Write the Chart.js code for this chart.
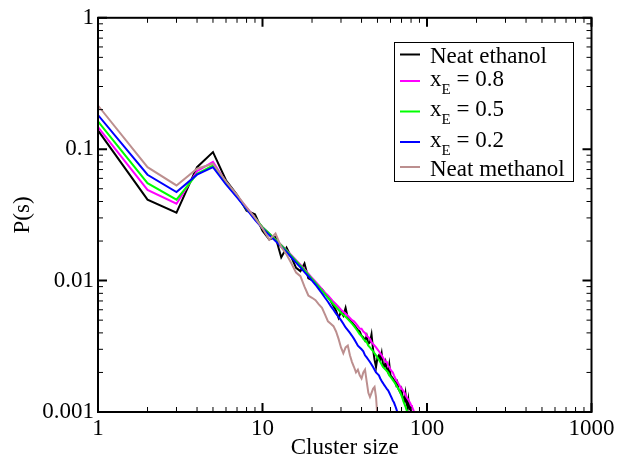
<!DOCTYPE html>
<html lang="en">
<head>
  <meta charset="UTF-8" />
  <title>Cluster size distribution</title>
  <script src="https://cdn.jsdelivr.net/npm/chart.js"></script>
  <style>
    html, body { margin: 0; padding: 0; background: #ffffff; }
    #wrap { width: 618px; height: 456px; }
  </style>
</head>
<body>
  <div id="wrap"><canvas id="clusterChart"></canvas></div>

  <script>
    // cluster size s (x) and P(s) for each system
    const clusterSize = [1, 2, 3, 4, 5, 6, 7, 8, 9, 10,
      11, 12, 13, 14, 15, 16, 17, 18, 19, 20,
      21, 22, 23, 24, 25, 26, 27, 28, 29, 30,
      31, 32, 33, 34, 35, 36, 37, 38, 39, 40,
      41, 42, 43, 44, 45, 46, 47, 48, 49, 50,
      51, 52, 53, 54, 55, 56, 57, 58, 59, 60,
      61, 62, 63, 64, 65, 66, 67, 68, 69, 70,
      71, 72, 73, 74, 75, 76, 77, 78, 79, 80,
      81, 82, 83, 84, 85];

    const neatEthanol = [0.139, 0.0413, 0.0329, 0.073, 0.095, 0.058, 0.045, 0.034, 0.032, 0.024,
      0.0205, 0.0215, 0.0150, 0.0178, 0.0150, 0.0125, 0.0118, 0.0135, 0.0104, 0.0101,
      0.0096, 0.0089, 0.0086, 0.0080, 0.0075, 0.0070, 0.0064, 0.0059, 0.0052, 0.0058,
      0.0054, 0.0062, 0.0052, 0.0050, 0.0048, 0.0046, 0.0044, 0.0042, 0.0041, 0.0038,
      0.0037, 0.0035, 0.0038, 0.0033, 0.0034, 0.0039, 0.0030, 0.0025, 0.0022, 0.0026,
      0.0027, 0.0025, 0.0028, 0.0023, 0.0022, 0.0024, 0.0021, 0.0020, 0.0023, 0.0019,
      0.00185, 0.0018, 0.00175, 0.0017, 0.0016, 0.00168, 0.0015, 0.00145, 0.0014, 0.00148,
      0.00132, 0.00128, 0.00122, 0.00138, 0.00118, 0.0011, 0.00124, 0.00106, 0.00108, 0.0010,
      0.00094, 0.00085];

    const xE08 = [0.147, 0.049, 0.0385, 0.068, 0.080, 0.056, 0.044, 0.036, 0.030, 0.0255,
      0.0228, 0.0206, 0.0187, 0.0170, 0.0156, 0.0143, 0.0132, 0.0122, 0.0113, 0.0105,
      0.0098, 0.0092, 0.0086, 0.0081, 0.0077, 0.0073, 0.0069, 0.0066, 0.0063, 0.0060,
      0.0058, 0.0056, 0.0054, 0.0052, 0.0050, 0.0049, 0.0047, 0.0045, 0.0043, 0.0043,
      0.0041, 0.0040, 0.0038, 0.0037, 0.0036, 0.0034, 0.0033, 0.0032, 0.0031, 0.0030,
      0.0029, 0.0028, 0.0027, 0.0026, 0.0025, 0.0024, 0.0024, 0.00225, 0.0022, 0.0021,
      0.00205, 0.0020, 0.0019, 0.00182, 0.00175, 0.0017, 0.00165, 0.0016, 0.00155, 0.0015,
      0.00148, 0.00144, 0.0014, 0.00135, 0.0013, 0.00127, 0.00124, 0.0012, 0.00117, 0.00113,
      0.0011, 0.00106, 0.00102, 0.00097, 0.0009];

    const xE05 = [0.163, 0.0552, 0.0413, 0.065, 0.075, 0.055, 0.044, 0.035, 0.030, 0.0255,
      0.0228, 0.0205, 0.0186, 0.0169, 0.0154, 0.0141, 0.0130, 0.0120, 0.0111, 0.0103,
      0.0096, 0.0090, 0.0084, 0.0079, 0.0074, 0.0070, 0.0066, 0.0063, 0.0060, 0.0057,
      0.0055, 0.0053, 0.0051, 0.0049, 0.0047, 0.0045, 0.0043, 0.0041, 0.0039, 0.0038,
      0.0036, 0.0035, 0.0034, 0.0032, 0.0031, 0.0030, 0.0029, 0.0028, 0.0027, 0.0026,
      0.0025, 0.0024, 0.0023, 0.0022, 0.00215, 0.0021, 0.00205, 0.0020, 0.0019, 0.00185,
      0.0018, 0.00175, 0.0017, 0.00165, 0.0016, 0.00155, 0.0015, 0.00145, 0.0014, 0.00133,
      0.00127, 0.0012, 0.00115, 0.0011, 0.00104, 0.0010, 0.00094];

    const xE02 = [0.182, 0.0639, 0.0472, 0.064, 0.073, 0.054, 0.043, 0.035, 0.029, 0.0250,
      0.0222, 0.0200, 0.0181, 0.0165, 0.0150, 0.0137, 0.0126, 0.0116, 0.0108, 0.0100,
      0.0093, 0.0086, 0.0080, 0.0074, 0.0069, 0.0064, 0.0060, 0.0056, 0.0053, 0.0050,
      0.0047, 0.0044, 0.0042, 0.0040, 0.0038, 0.0036, 0.0034, 0.0032, 0.0031, 0.0030,
      0.0029, 0.0027, 0.0026, 0.0025, 0.0024, 0.0023, 0.0022, 0.0021, 0.0020, 0.00195,
      0.0019, 0.0018, 0.00172, 0.00166, 0.0016, 0.00155, 0.0015, 0.00146, 0.0014, 0.00134,
      0.00128, 0.00122, 0.00118, 0.00112, 0.00106, 0.0010, 0.00095, 0.0009];

    const neatMethanol = [0.215, 0.073, 0.053, 0.071, 0.0775, 0.057, 0.045, 0.036, 0.030, 0.025,
      0.0205, 0.0228, 0.0180, 0.0158, 0.0135, 0.0115, 0.0108, 0.0090, 0.0077, 0.0074,
      0.0071, 0.0066, 0.0062, 0.0055, 0.0049, 0.0047, 0.0045, 0.0041, 0.0036, 0.0031,
      0.0028, 0.0031, 0.0032, 0.0027, 0.0024, 0.0022, 0.0020, 0.0021, 0.0019, 0.0018,
      0.0020, 0.0021, 0.0017, 0.0014, 0.0013, 0.0014, 0.0015, 0.00155, 0.0013, 0.0009];

    const seriesNames = ['Neat ethanol', 'x_E = 0.8', 'x_E = 0.5', 'x_E = 0.2', 'Neat methanol'];
    const seriesValues = [neatEthanol, xE08, xE05, xE02, neatMethanol];
    const seriesColors = ['#000000', '#ff00ff', '#00ff00', '#0000ff', '#bc8f8f'];

    const xTicks = [1, 10, 100, 1000];
    const yTicks = [0.001, 0.01, 0.1, 1];

    const serif = "'Liberation Serif', 'Times New Roman', serif";
    Chart.defaults.font.family = serif;
    Chart.defaults.font.size = 23;
    Chart.defaults.color = '#000';

    // frame with inward major/minor ticks on all four sides
    const frameTicks = {
      id: 'frameTicks',
      afterDatasetsDraw(chart) {
        const { ctx, chartArea: a, scales: { x, y } } = chart;
        ctx.save();
        ctx.strokeStyle = '#000';

        const mark = (v, scale, len, horiz) => {
          const p = scale.getPixelForValue(v);
          ctx.beginPath();
          if (horiz) {
            ctx.moveTo(p, a.bottom); ctx.lineTo(p, a.bottom - len);
            ctx.moveTo(p, a.top); ctx.lineTo(p, a.top + len);
          } else {
            ctx.moveTo(a.left, p); ctx.lineTo(a.left + len, p);
            ctx.moveTo(a.right, p); ctx.lineTo(a.right - len, p);
          }
          ctx.stroke();
        };

        ctx.lineWidth = 1;
        for (let i = 0; i < xTicks.length - 1; i++) {
          for (let k = 2; k <= 9; k++) mark(xTicks[i] * k, x, 5, true);
        }
        for (let i = 0; i < yTicks.length - 1; i++) {
          for (let k = 2; k <= 9; k++) mark(yTicks[i] * k, y, 5, false);
        }
        ctx.lineWidth = 2;
        xTicks.forEach(v => mark(v, x, 9, true));
        yTicks.forEach(v => mark(v, y, 9, false));

        ctx.strokeRect(a.left, a.top, a.right - a.left, a.bottom - a.top);
        ctx.restore();
      }
    };

    // boxed legend with subscripted labels (x_E)
    const boxLegend = {
      id: 'boxLegend',
      afterDraw(chart) {
        const ctx = chart.ctx;
        ctx.save();
        ctx.strokeStyle = '#000';
        ctx.lineWidth = 1;
        ctx.strokeRect(394.5, 42.5, 179, 139);

        let rowY = 54.5;
        let prevSub = false;
        chart.data.datasets.forEach((ds, i) => {
          const hasSub = ds.label.includes('_');
          if (i > 0) rowY += (hasSub && prevSub) ? 30.5 : (hasSub ? 26.5 : 25);
          prevSub = hasSub;

          ctx.strokeStyle = ds.borderColor;
          ctx.lineWidth = 2;
          ctx.beginPath();
          ctx.moveTo(400, rowY);
          ctx.lineTo(420, rowY);
          ctx.stroke();

          ctx.fillStyle = '#000';
          ctx.textAlign = 'left';
          ctx.textBaseline = 'alphabetic';
          ctx.font = '23px ' + serif;
          let tx = 430;
          if (hasSub) {
            const [head, tail] = ds.label.split('_');
            const base = rowY + 4.5;
            ctx.fillText(head, tx, base);
            tx += ctx.measureText(head).width;
            ctx.font = '15px ' + serif;
            ctx.fillText(tail[0], tx, base + 8);
            tx += ctx.measureText(tail[0]).width;
            ctx.font = '23px ' + serif;
            ctx.fillText(tail.slice(1), tx, base);
          } else {
            ctx.fillText(ds.label, tx, rowY + 8.7);
          }
        });
        ctx.restore();
      }
    };

    const datasets = seriesNames.map((name, i) => ({
      label: name,
      data: seriesValues[i].map((p, j) => ({ x: clusterSize[j], y: p })),
      borderColor: seriesColors[i],
      backgroundColor: seriesColors[i],
      borderWidth: 2,
      pointRadius: 0,
      tension: 0,
      fill: false,
      order: seriesNames.length - i
    }));

    new Chart(document.getElementById('clusterChart'), {
      type: 'line',
      data: { datasets },
      options: {
        responsive: true,
        maintainAspectRatio: false,
        animation: false,
        devicePixelRatio: 1,
        layout: { padding: { top: 17, right: 25, bottom: 0, left: 0 } },
        plugins: { legend: { display: false }, tooltip: { enabled: false } },
        scales: {
          x: {
            type: 'logarithmic',
            min: 1,
            max: 1000,
            afterBuildTicks: s => { s.ticks = xTicks.map(v => ({ value: v })); },
            afterFit: s => { s.height = 44; },
            ticks: { autoSkip: false, maxRotation: 0, padding: 3.5, callback: v => String(v) },
            grid: { display: false, drawTicks: false },
            border: { display: false },
            title: {
              display: true, text: 'Cluster size',
              font: { size: 23, lineHeight: 1 },
              padding: { top: 0, bottom: -3 }
            }
          },
          y: {
            type: 'logarithmic',
            min: 0.001,
            max: 1,
            afterBuildTicks: s => { s.ticks = yTicks.map(v => ({ value: v })); },
            afterFit: s => { s.width = 98; },
            ticks: { autoSkip: false, padding: 4, callback: v => String(v) },
            grid: { display: false, drawTicks: false },
            border: { display: false },
            title: {
              display: true, text: 'P(s)',
              font: { size: 23, lineHeight: 1.2 },
              padding: { top: 8.7, bottom: 0 }
            }
          }
        }
      },
      plugins: [frameTicks, boxLegend]
    });
  </script>
</body>
</html>
